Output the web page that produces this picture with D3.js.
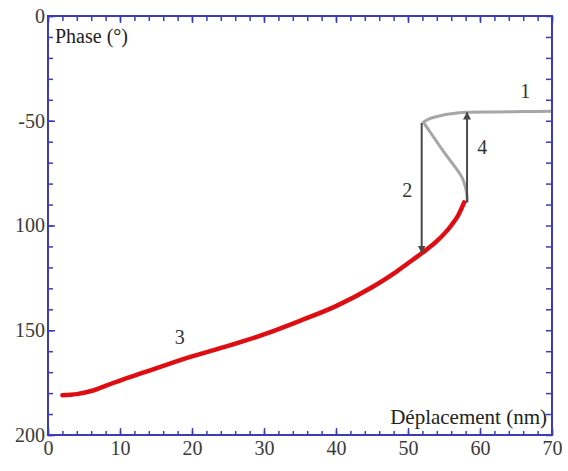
<!DOCTYPE html>
<html>
<head>
<meta charset="utf-8">
<script src="https://cdn.jsdelivr.net/npm/d3@7"></script>
<style>
  body { margin: 0; background: #fff; }
  text { font-family: "Liberation Serif", "Times New Roman", serif; }
</style>
</head>
<body>
<svg id="chart"></svg>
<script>
// phase curves, [deplacement, phase]
var branch1 = [[52, 51], [53, 49], [54.5, 47.6], [56, 46.7], [58.2, 46], [62, 45.8], [66, 45.6], [70, 45.5]];
var branchDrop = [[52.2, 51], [52.7, 53.5], [55, 65], [57.5, 77], [58, 82], [58.2, 86], [58.2, 89]];
var branch3 = [[2, 181], [4, 180.5], [6, 179], [8, 176.5], [10, 174], [13, 170.5], [16, 167], [20, 162.5], [25, 157.5], [30, 152], [35, 145.5], [40, 138.5], [45, 129.5], [48, 123], [50, 118], [52, 113], [54, 107.5], [56, 100], [57, 95], [57.8, 89]];

var arrowDown = [[51.9, 51], [51.9, 113]];
var arrowUp = [[58.2, 89], [58.2, 46]];

var numLabels = ["1", "2", "3", "4"];
var numPos = [[66.3, 36], [49.9, 83], [18.3, 153], [60.3, 62.5]];

var xTicks = [0, 10, 20, 30, 40, 50, 60, 70];
var yTicks = [0, 50, 100, 150, 200];
var yTickLabels = ["0", "-50", "100", "150", "200"];

var svg_width = 568, svg_height = 471;
var axisColor = "#3c3cb8";

var svg = d3.select("#chart")
	.attr("width", svg_width)
	.attr("height", svg_height);

var x = d3.scaleLinear().domain([0, 70]).range([48, 552]);
var y = d3.scaleLinear().domain([0, 200]).range([16, 435]);

var defs = svg.append("defs");
defs.append("marker")
	.attr("id", "head")
	.attr("viewBox", "0 0 10 10")
	.attr("refX", 9).attr("refY", 5)
	.attr("markerWidth", 4).attr("markerHeight", 5)
	.attr("markerUnits", "strokeWidth")
	.attr("orient", "auto")
	.append("path")
	.attr("d", "M0,0 L10,5 L0,10 z")
	.attr("fill", "#4a4a4a");

var line = d3.line()
	.x(function (d) { return x(d[0]) })
	.y(function (d) { return y(d[1]) })
	.curve(d3.curveCatmullRom);

var smooth = d3.line()
	.x(function (d) { return x(d[0]) })
	.y(function (d) { return y(d[1]) })
	.curve(d3.curveMonotoneX);

// gray branches
svg.append("path")
	.datum(branch1)
	.attr("fill", "none")
	.attr("stroke", "#a6a6a6")
	.attr("stroke-width", 3)
	.attr("d", line);

svg.append("path")
	.datum(branchDrop)
	.attr("fill", "none")
	.attr("stroke", "#a6a6a6")
	.attr("stroke-width", 3)
	.attr("d", line);

// red branch
svg.append("path")
	.datum(branch3)
	.attr("fill", "none")
	.attr("stroke", "#e30d12")
	.attr("stroke-width", 4.5)
	.attr("stroke-linecap", "round")
	.attr("d", smooth);

svg.append("path")
	.datum(branch3)
	.attr("fill", "none")
	.attr("stroke", "#6a1830")
	.attr("stroke-width", 1)
	.attr("stroke-dasharray", "3,5")
	.attr("opacity", 0.45)
	.attr("d", smooth);

// arrows
[arrowDown, arrowUp].forEach(function (a) {
	svg.append("path")
		.datum(a)
		.attr("fill", "none")
		.attr("stroke", "#4a4a4a")
		.attr("stroke-width", 2)
		.attr("marker-end", "url(#head)")
		.attr("d", d3.line().x(function (d) { return x(d[0]) }).y(function (d) { return y(d[1]) }));
});

// numbers
svg.selectAll(".num")
	.data(numLabels)
	.enter().append("text")
	.attr("class", "num")
	.attr("x", function (d, i) { return x(numPos[i][0]) })
	.attr("y", function (d, i) { return y(numPos[i][1]) })
	.attr("dy", "0.35em")
	.attr("text-anchor", "middle")
	.attr("font-size", 20)
	.attr("fill", "#333")
	.text(function (d) { return d; });

// axes: major + minor ticks on all four sides, pointing inward
function styleAxis(g) {
	g.select(".domain").remove();
	g.selectAll(".tick line").attr("stroke", axisColor).attr("stroke-width", 1.5);
	g.selectAll(".tick text")
		.attr("fill", "#3a3a3a")
		.attr("font-size", 20)
		.attr("font-family", "Liberation Serif, serif");
}

var minorX = d3.range(0, 71, 2);
var minorY = d3.range(0, 201, 10);

svg.append("g")
	.attr("transform", "translate(0," + y(200) + ")")
	.call(d3.axisBottom(x).tickValues(xTicks).tickFormat(d3.format("d")).tickSizeInner(-7).tickSizeOuter(0).tickPadding(6))
	.call(styleAxis);
svg.append("g")
	.attr("transform", "translate(0," + y(200) + ")")
	.call(d3.axisBottom(x).tickValues(minorX).tickFormat("").tickSizeInner(-4).tickSizeOuter(0))
	.call(styleAxis);
svg.append("g")
	.attr("transform", "translate(0," + y(0) + ")")
	.call(d3.axisTop(x).tickValues(minorX).tickFormat("").tickSizeInner(-5).tickSizeOuter(0))
	.call(styleAxis);
svg.append("g")
	.attr("transform", "translate(0," + y(0) + ")")
	.call(d3.axisTop(x).tickValues(xTicks).tickFormat("").tickSizeInner(-7).tickSizeOuter(0))
	.call(styleAxis);

svg.append("g")
	.attr("transform", "translate(" + x(0) + ",0)")
	.call(d3.axisLeft(y).tickValues(yTicks).tickFormat(function (d, i) { return yTickLabels[i]; }).tickSizeInner(-7).tickSizeOuter(0).tickPadding(3))
	.call(styleAxis);
svg.append("g")
	.attr("transform", "translate(" + x(0) + ",0)")
	.call(d3.axisLeft(y).tickValues(minorY).tickFormat("").tickSizeInner(-5).tickSizeOuter(0))
	.call(styleAxis);
svg.append("g")
	.attr("transform", "translate(" + x(70) + ",0)")
	.call(d3.axisRight(y).tickValues(minorY).tickFormat("").tickSizeInner(-6).tickSizeOuter(0))
	.call(styleAxis);

// frame
svg.append("rect")
	.attr("x", x(0)).attr("y", y(0))
	.attr("width", x(70) - x(0)).attr("height", y(200) - y(0))
	.attr("fill", "none")
	.attr("stroke", axisColor)
	.attr("stroke-width", 2);

// axis titles
svg.append("text")
	.attr("x", 55).attr("y", 43)
	.attr("font-size", 20)
	.attr("fill", "#222")
	.text("Phase (°)");

svg.append("text")
	.attr("x", 547).attr("y", 424)
	.attr("text-anchor", "end")
	.attr("font-size", 21)
	.attr("fill", "#222")
	.text("Déplacement (nm)");
</script>
</body>
</html>
